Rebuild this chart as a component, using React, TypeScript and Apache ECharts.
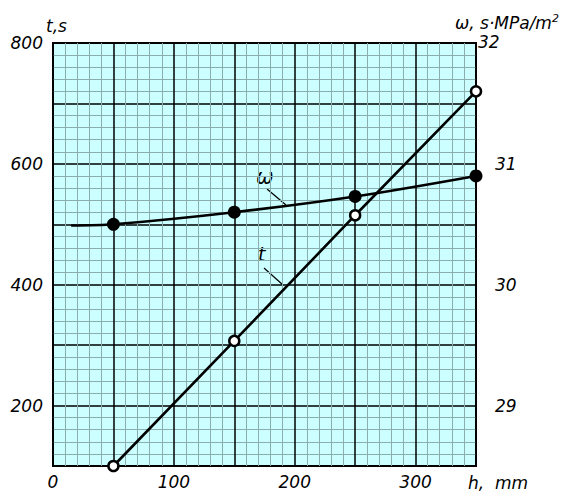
import React, { useEffect, useRef } from "react";
import * as echarts from "echarts";

const hValuesT = [50, 150, 250, 350];
const tValues = [100, 307, 515, 720];
const hValuesW = [15, 50, 150, 250, 350];
const wValues = [30.49, 30.5, 30.6, 30.73, 30.9];
const xLabelTicks = [0, 100, 200, 300];
const rightLabelTicks = [29, 30, 31];

const FONT = "DejaVu Sans";
const txt = { fontFamily: FONT, fontStyle: "italic" as const, fontSize: 17, color: "#000" };
const gtxt = { fontFamily: FONT, fontStyle: "italic" as const, fontSize: 17, fill: "#000" };

export default function App() {
  const ref = useRef<HTMLDivElement>(null);
  useEffect(() => {
    if (!ref.current) return;
    const chart = echarts.init(ref.current, undefined, { renderer: "svg" });
    const minor = { show: true, lineStyle: { color: "#8aaeae", width: 1 } };
    const major = { show: true, lineStyle: { color: "#000", width: 1.5 } };
    chart.setOption({
      animation: false,
      grid: {
        left: 53, top: 43, right: 98, bottom: 25,
        show: true, backgroundColor: "#ccffff", borderColor: "#000", borderWidth: 2,
      },
      xAxis: {
        type: "value", min: 0, max: 350, interval: 50,
        axisLine: { show: false }, axisTick: { show: false },
        minorTick: { show: false, splitNumber: 5 },
        splitLine: major, minorSplitLine: minor,
        axisLabel: {
          ...txt, margin: 7,
          formatter: (v: number) => (xLabelTicks.includes(v) ? String(v) : ""),
        },
        name: "h,  mm", nameLocation: "end", nameGap: -8,
        nameTextStyle: { ...txt, align: "left", verticalAlign: "top", padding: [8, 0, 0, 0] },
      },
      yAxis: [
        {
          type: "value", min: 100, max: 800, interval: 100,
          axisLine: { show: false }, axisTick: { show: false },
          minorTick: { show: false, splitNumber: 5 },
          splitLine: major, minorSplitLine: minor,
          axisLabel: {
            ...txt, margin: 10,
            formatter: (v: number) => (v % 200 === 0 ? String(v) : ""),
          },
          name: "t,s", nameLocation: "end", nameGap: 9,
          nameTextStyle: { ...txt, align: "left", padding: [0, 0, 0, -7] },
        },
        {
          type: "value", min: 28.5, max: 32, interval: 0.5,
          axisLine: { show: false }, axisTick: { show: false },
          splitLine: { show: false },
          axisLabel: {
            ...txt, margin: 19,
            formatter: (v: number) => (rightLabelTicks.includes(v) ? String(v) : ""),
          },
          name: "{a|ω, s·MPa/m}{s|2}", nameLocation: "end", nameGap: 11,
          nameTextStyle: {
            ...txt, align: "left", padding: [0, 0, 0, -21],
            rich: {
              a: { ...txt },
              s: { ...txt, fontSize: 11, verticalAlign: "top", padding: [0, 0, 8, 0] },
            },
          },
        },
      ],
      graphic: [
        { type: "text", left: 478, top: 33, style: { text: "32", ...gtxt } },
        { type: "text", x: 256, y: 166, style: { text: "ω", ...gtxt, fontSize: 21 } },
        { type: "line", shape: { x1: 267, y1: 189, x2: 286, y2: 205 }, style: { stroke: "#000", lineWidth: 1.2 } },
        { type: "text", x: 258, y: 244, style: { text: "t", ...gtxt, fontSize: 19 } },
        { type: "line", shape: { x1: 264, y1: 268, x2: 283, y2: 285 }, style: { stroke: "#000", lineWidth: 1.2 } },
      ],
      series: [
        {
          type: "line", yAxisIndex: 1, smooth: 0.3,
          data: hValuesW.map((h, i) => (i === 0 ? { value: [h, wValues[i]], symbol: "none" } : [h, wValues[i]])),
          symbol: "circle", symbolSize: 13,
          lineStyle: { color: "#000", width: 2.6 },
          itemStyle: { color: "#000", borderColor: "#000", borderWidth: 0 },
          z: 3,
        },
        {
          type: "line",
          data: hValuesT.map((h, i) => [h, tValues[i]]),
          symbol: "circle", symbolSize: 10,
          lineStyle: { color: "#000", width: 2.6 },
          itemStyle: { color: "#fff", borderColor: "#000", borderWidth: 2.5 },
          z: 4,
        },
      ],
    });
    return () => chart.dispose();
  }, []);
  return <div ref={ref} style={{ width: 574, height: 491, position: "absolute", left: 0, top: 0 }} />;
}
